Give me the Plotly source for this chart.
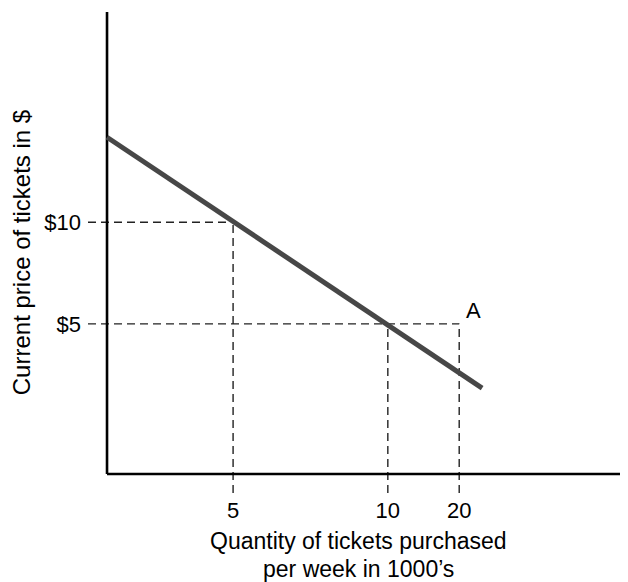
import plotly.graph_objects as go

# Schematic units: x position along quantity axis (0-100), y position along price axis (0-100)
qty_labels = ["5", "10", "20"]
qty_pos = [24.2, 53.9, 67.6]
price_labels = ["$5", "$10"]
price_pos = [32.5, 54.5]

demand_x = [0.0, 72.0]
demand_y = [72.9, 18.6]

X_MIN, X_MAX = -3.65, 100.0
Y_MIN, Y_MAX = -4.11, 100.0

x_title_lines = ["Quantity of tickets purchased", "per week in 1000’s"]
y_title = "Current price of tickets in $"

FONT = "Liberation Sans, Arial, Helvetica, sans-serif"
DASH = "8px,5px"
DCOL = "#222222"

fig = go.Figure()

# dashed guide lines
guides = [
    ([X_MIN, qty_pos[0]], [price_pos[1], price_pos[1]]),
    ([qty_pos[0], qty_pos[0]], [Y_MIN, price_pos[1]]),
    ([X_MIN, qty_pos[2]], [price_pos[0], price_pos[0]]),
    ([qty_pos[1], qty_pos[1]], [Y_MIN, price_pos[0]]),
    ([qty_pos[2], qty_pos[2]], [Y_MIN, price_pos[0]]),
]
for gx, gy in guides:
    fig.add_trace(go.Scatter(x=gx, y=gy, mode="lines",
                             line=dict(color=DCOL, width=1.4, dash=DASH),
                             hoverinfo="skip", showlegend=False))

# axes lines
fig.add_trace(go.Scatter(x=[0, 0], y=[0, Y_MAX], mode="lines",
                         line=dict(color="black", width=2.6),
                         hoverinfo="skip", showlegend=False))
fig.add_trace(go.Scatter(x=[0, X_MAX], y=[0, 0], mode="lines",
                         line=dict(color="black", width=2.6),
                         hoverinfo="skip", showlegend=False))

# demand line
fig.add_trace(go.Scatter(x=demand_x, y=demand_y, mode="lines",
                         line=dict(color="#474747", width=5),
                         showlegend=False))

fig.add_annotation(x=qty_pos[2], y=price_pos[0], text="A", showarrow=False,
                   xanchor="center", yanchor="middle", xshift=14, yshift=13,
                   font=dict(family=FONT, size=22, color="black"))

# x-axis title (two lines)
for i, line in enumerate(x_title_lines):
    fig.add_annotation(x=0.5, y=0, xref="paper", yref="paper", text=line,
                       showarrow=False, xanchor="center", yanchor="middle",
                       yshift=-48 - 28 * i,
                       font=dict(family=FONT, size=23, color="black"))

fig.update_xaxes(range=[X_MIN, X_MAX], showgrid=False, zeroline=False,
                 showline=False, ticks="", tickvals=qty_pos, ticktext=qty_labels,
                 tickfont=dict(family=FONT, size=22, color="black"),
                 ticklabelstandoff=2,
                 fixedrange=True)
fig.update_yaxes(range=[Y_MIN, Y_MAX], showgrid=False, zeroline=False,
                 showline=False, ticks="", tickvals=price_pos, ticktext=price_labels,
                 tickfont=dict(family=FONT, size=22, color="black"),
                 ticklabelstandoff=6,
                 title=dict(text=y_title,
                            font=dict(family=FONT, size=24, color="black"),
                            standoff=10),
                 fixedrange=True)

fig.update_layout(width=620, height=574,
                  margin=dict(l=80, r=0, t=4, b=89, autoexpand=False),
                  plot_bgcolor="white", paper_bgcolor="white",
                  showlegend=False)

fig.write_html("out.html")
